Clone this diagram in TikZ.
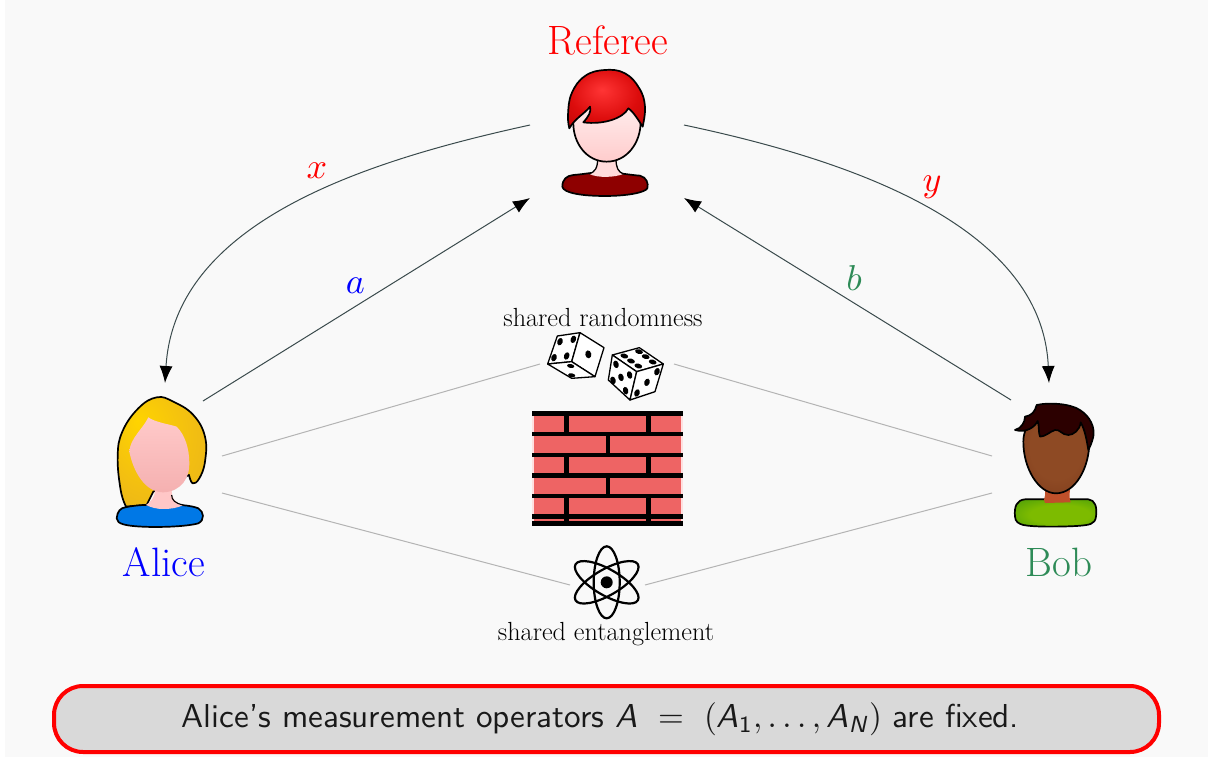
\documentclass[tikz,border=0pt]{standalone}
\usepackage{amsmath}
\usetikzlibrary{arrows.meta}
\definecolor{bgc}{HTML}{F9F9F9}
\definecolor{seag}{HTML}{2E8B57}
\definecolor{brickc}{HTML}{EE6464}
\definecolor{boxc}{HTML}{D9D9D9}
\definecolor{linkc}{HTML}{B4B4B4}
\definecolor{curvec}{HTML}{3A4A4C}
\definecolor{goldA}{HTML}{FFD400}
\definecolor{goldB}{HTML}{F2BE12}
\definecolor{goldC}{HTML}{E2AC20}
\definecolor{redA}{HTML}{FF3535}
\definecolor{redB}{HTML}{DC0C0C}
\definecolor{redC}{HTML}{A80000}
\definecolor{bodyrA}{HTML}{8E0000}
\definecolor{bodyrB}{HTML}{3A0000}
\definecolor{blueA}{HTML}{0078E6}
\definecolor{blueB}{HTML}{0A4AA0}
\definecolor{greenA}{HTML}{7DBB00}
\definecolor{greenB}{HTML}{2A8A10}
\definecolor{brownA}{HTML}{8E4A24}
\definecolor{brownB}{HTML}{702E14}
\definecolor{neckb}{HTML}{C0502A}
\definecolor{hairb}{HTML}{2C0000}
\pgfdeclareradialshading{hairred}{\pgfpoint{-3bp}{8bp}}{color(0bp)=(redA);color(22bp)=(redB);color(50bp)=(redC)}
\pgfdeclareradialshading{hairgold}{\pgfpoint{-14bp}{14bp}}{color(0bp)=(goldA);color(25bp)=(goldB);color(50bp)=(goldC)}
\pgfdeclareradialshading{bodyred}{\pgfpoint{0bp}{0bp}}{color(0bp)=(bodyrA);color(22bp)=(bodyrA);color(50bp)=(bodyrB)}
\pgfdeclareradialshading{bodyblue}{\pgfpoint{0bp}{0bp}}{color(0bp)=(blueA);color(30bp)=(blueA);color(50bp)=(blueB)}
\pgfdeclareradialshading{bodygreen}{\pgfpoint{4bp}{-4bp}}{color(0bp)=(greenA);color(18bp)=(greenA);color(50bp)=(greenB)}
\pgfdeclareradialshading{facebrown}{\pgfpoint{0bp}{6bp}}{color(0bp)=(brownA);color(20bp)=(brownA);color(50bp)=(brownB)}
\tikzset{
  anchorbox/.style={inner sep=0pt,outer sep=0pt,draw=none,fill=none},
  avatarline/.style={draw=black,line width=1.7pt,line join=round},
  curvelink/.style={draw=curvec,line width=1pt,-{Latex[black,length=17pt,width=13pt]}},
  straightlink/.style={draw=curvec,line width=1pt,-{Latex[black,length=17pt,width=13pt]}},
  greylink/.style={draw=linkc,line width=1pt},
  bigname/.style={inner sep=0pt,font=\fontsize{41}{44}\selectfont},
  smallname/.style={inner sep=0pt,text=black,font=\fontsize{26.2}{30}\selectfont},
  mathlabel/.style={inner sep=0pt,scale=3.6},
  diceline/.style={draw=black,fill=white,line width=1.3pt,line join=round},
  pip/.style={fill=black,draw=none},
  atomorbit/.style={draw=black,line width=2.2pt},
  notebox/.style={draw=red,fill=boxc,line width=4pt,rounded corners=29pt,minimum width=1105pt,minimum height=66pt,inner sep=0pt},
  notetext/.style={inner sep=0pt,scale=3.316,font=\sffamily,text=black!90}
}
\newcommand{\msit}[1]{\textsf{\textit{#1}}}
\begin{document}
\begin{tikzpicture}[x=1pt,y=-1pt]
\useasboundingbox (0,0) rectangle (1208,758);
\fill[white] (0,0) rectangle (1208,758);
\fill[bgc] (5,0) rectangle (1208,757);

% anchor nodes
\node[anchorbox,minimum width=154pt,minimum height=73pt] (referee) at (607,161.5) {};
\node[anchorbox,minimum width=114pt,minimum height=150pt] (alice) at (165,458) {};
\node[anchorbox,minimum width=114pt,minimum height=150pt] (bob) at (1049,458) {};
\node[anchorbox,minimum width=134pt,minimum height=40pt] (dice) at (607,364) {};
\node[anchorbox,minimum width=75pt,minimum height=40pt] (atom) at (607.5,585) {};
\coordinate (aliceA) at (203,401);
\coordinate (aliceU) at (222,456);
\coordinate (aliceL) at (222,493);
\coordinate (bobB) at (1011,400);
\coordinate (bobU) at (992,456);
\coordinate (bobL) at (992,493);

% connectors
\draw[curvelink] (referee.north west) .. controls (370,160) and (175,220) .. (alice.north);
\draw[curvelink] (referee.north east) .. controls (840,158) and (1042,222) .. (bob.north);
\draw[straightlink] (aliceA) -- (referee.south west);
\draw[straightlink] (bobB) -- (referee.south east);
\draw[greylink] (aliceU) -- (dice.west);
\draw[greylink] (bobU) -- (dice.east);
\draw[greylink] (aliceL) -- (atom.west);
\draw[greylink] (bobL) -- (atom.east);

% labels
\node[bigname,text=red] (reftxt) at (608,40) {Referee};
\node[bigname,text=blue] (alitxt) at (164,562.5) {Alice};
\node[bigname,text=seag] (bobtxt) at (1059,562.5) {Bob};
\node[mathlabel,text=red] (xl) at (317,171) {$x$};
\node[mathlabel,text=red] (yl) at (932,187) {$y$};
\node[mathlabel,text=blue] (al) at (355.5,286) {$a$};
\node[mathlabel,text=seag] (bl) at (854,278) {$b$};
\node[smallname] (srtxt) at (603,318) {shared randomness};
\node[smallname] (setxt) at (606,634.5) {shared entanglement};
\node[notebox] (note) at (606.5,719) {};
\node[notetext] (notetxt) at (600.5,719) {Alice's measurement operators \msit{A} $\;=\;$ $(\msit{A}_{\textsf{1}},\ldots,\msit{A}_{\msit{N}})$ are fixed.};

% Referee avatar
\begin{scope}[shift={(530,60)},x=0.3333pt,y=-0.3333pt]
  \path[avatarline,shading=bodyred] (97,380) .. controls (97,358) and (110,347) .. (130,345) .. controls (170,342) and (195,335) .. (225,337) .. controls (260,337) and (300,345) .. (330,347) .. controls (350,352) and (356,370) .. (352,385) .. controls (345,398) and (290,408) .. (225,408) .. controls (160,408) and (100,400) .. (97,380) -- cycle;
  \path[fill=red!14!white] (178,342) .. controls (195,335) and (203,325) .. (203,295) -- (258,295) .. controls (258,325) and (265,335) .. (280,342) .. controls (255,352) and (205,355) .. (178,342) -- cycle;
  \draw[black,line width=1.3pt] (178,342) .. controls (195,335) and (203,325) .. (203,295) (280,342) .. controls (265,335) and (258,325) .. (258,295);
  \path[avatarline,top color=red!5!white,bottom color=red!20!white] (130,190) .. controls (130,250) and (170,305) .. (230,305) .. controls (290,305) and (332,250) .. (332,185) .. controls (332,130) and (290,105) .. (230,105) .. controls (170,105) and (130,130) .. (130,190) -- cycle;
  \path[avatarline,shading=hairred] plot[smooth,tension=0.7] coordinates {(118,205) (114,165) (125,100) (165,48) (225,30) (285,40) (328,85) (345,140) (338,200)} .. controls (325,180) and (310,155) .. (295,145) .. controls (280,175) and (220,195) .. (160,187) .. controls (175,170) and (185,155) .. (180,140) .. controls (165,160) and (135,175) .. (118,205) -- cycle;
\end{scope}

% Alice avatar
\begin{scope}[shift={(90,385)},x=0.3333pt,y=-0.3333pt]
  \path[avatarline,shading=hairgold] plot[smooth,tension=0.7] coordinates {(108,365) (92,315) (83,215) (97,140) (145,70) (200,37) (250,50) (310,90) (345,155) (345,230) (328,280) (308,295) (297,270)} -- (190,320) -- (170,360) -- cycle;
  \path[avatarline,shading=bodyblue] (80,400) .. controls (82,380) and (90,368) .. (110,366) .. controls (140,360) and (180,358) .. (215,360) .. controls (260,358) and (300,360) .. (325,370) .. controls (342,380) and (345,405) .. (325,415) .. controls (280,428) and (140,430) .. (100,418) .. controls (88,414) and (80,410) .. (80,400) -- cycle;
  \path[fill=red!22!white] (168,360) .. controls (180,352) and (195,340) .. (195,315) -- (245,315) .. controls (245,340) and (255,355) .. (280,360) .. controls (265,368) and (245,372) .. (220,372) .. controls (200,372) and (185,368) .. (168,360) -- cycle;
  \draw[black,line width=1.1pt] (245,330) .. controls (245,345) and (255,355) .. (280,360);
  \path[top color=red!21!white,bottom color=red!28!white!96!black] (175,97) .. controls (195,112) and (240,118) .. (260,125) .. controls (285,150) and (298,190) .. (298,235) .. controls (300,275) and (275,320) .. (220,322) .. controls (165,322) and (130,260) .. (118,200) .. controls (120,160) and (160,130) .. (175,97) -- cycle;
\end{scope}

% Bob avatar
\begin{scope}[shift={(990,385)},x=0.3333pt,y=-0.3333pt]
  \path[avatarline,shading=bodygreen] (75,395) .. controls (72,365) and (80,345) .. (105,343) -- (295,343) .. controls (315,345) and (322,365) .. (318,395) .. controls (315,418) and (300,420) .. (260,423) .. controls (200,426) and (130,426) .. (100,420) .. controls (85,416) and (76,410) .. (75,395) -- cycle;
  \path[fill=neckb] (162,345) .. controls (166,335) and (166,325) .. (165,315) -- (240,315) .. controls (238,330) and (238,340) .. (242,352) -- (165,354) -- cycle;
  \path[avatarline,shading=facebrown] (100,170) .. controls (100,250) and (145,325) .. (198,325) .. controls (255,325) and (298,250) .. (298,170) .. controls (298,110) and (250,85) .. (198,85) .. controls (150,85) and (100,110) .. (100,170) -- cycle;
  \path[avatarline,fill=hairb] (75,135) .. controls (95,130) and (105,110) .. (105,95) .. controls (125,92) and (135,80) .. (140,60) .. controls (175,52) and (240,55) .. (270,75) .. controls (300,95) and (315,125) .. (310,155) .. controls (305,175) and (300,185) .. (295,195) .. controls (290,165) and (285,135) .. (272,112) .. controls (270,135) and (250,150) .. (235,150) .. controls (215,150) and (210,132) .. (195,135) .. controls (180,140) and (165,155) .. (150,155) .. controls (145,145) and (148,120) .. (143,108) .. controls (135,125) and (110,145) .. (75,135) -- cycle;
\end{scope}

% Dice
\begin{scope}[shift={(520,300)},x=0.3333pt,y=-0.3333pt]
  \path[diceline] (112,108) -- (180,98) -- (155,185) -- (83,192) -- cycle;
  \path[diceline] (180,98) -- (252,143) -- (225,230) -- (155,185) -- cycle;
  \path[diceline] (83,192) -- (155,185) -- (225,230) -- (155,235) -- cycle;
  \foreach \px/\py in {120/125,160/118,102/173,140/168}{\fill[pip] (\px,\py) ellipse[x radius=8,y radius=11.5,rotate=-20];}
  \fill[pip] (205,163) ellipse[x radius=9,y radius=12,rotate=10];
  \foreach \px/\py in {152/198,155/226}{\fill[pip] (\px,\py) ellipse[x radius=11,y radius=6,rotate=-10];}
  \path[diceline] (277,165) -- (358,143) -- (430,192) -- (350,215) -- cycle;
  \path[diceline] (277,165) -- (350,215) -- (330,300) -- (265,240) -- cycle;
  \path[diceline] (350,215) -- (430,192) -- (405,275) -- (330,300) -- cycle;
  \foreach \px/\py in {313/168,357/155,333/183,377/170,355/198,398/186}{\fill[pip] (\px,\py) ellipse[x radius=12,y radius=7,rotate=-15];}
  \foreach \px/\py in {288/193,303/232,279/241,329/225,317/272}{\fill[pip] (\px,\py) ellipse[x radius=8,y radius=11.5,rotate=15];}
  \foreach \px/\py in {411/215,381/247,351/279}{\fill[pip] (\px,\py) ellipse[x radius=8,y radius=11.5,rotate=-20];}
\end{scope}

% Brick wall
\begin{scope}[shift={(520,405)},x=0.3333pt,y=-0.3333pt]
  \fill[red!12!white] (35,20) rectangle (490,362);
  \fill[brickc] (42,25) rectangle (482,355);
  \foreach \wy in {25,87,150,212,273,335,355}{\fill[black] (36,\wy-7) rectangle (490,\wy+7);}
  \foreach \wa/\wb in {25/87,150/212,273/355}{
    \fill[black] (133,\wa) rectangle (147,\wb);
    \fill[black] (379,\wa) rectangle (393,\wb);}
  \foreach \wa/\wb in {87/150,212/273}{\fill[black] (257,\wa) rectangle (271,\wb);}
\end{scope}

% Atom
\begin{scope}[shift={(606.7,582.3)}]
  \draw[atomorbit] (0,0) ellipse[x radius=13,y radius=36];
  \draw[atomorbit,rotate=60] (0,0) ellipse[x radius=13,y radius=36];
  \draw[atomorbit,rotate=-60] (0,0) ellipse[x radius=13,y radius=36];
  \fill[black] (0,0) circle[radius=6];
\end{scope}
\end{tikzpicture}
\end{document}
